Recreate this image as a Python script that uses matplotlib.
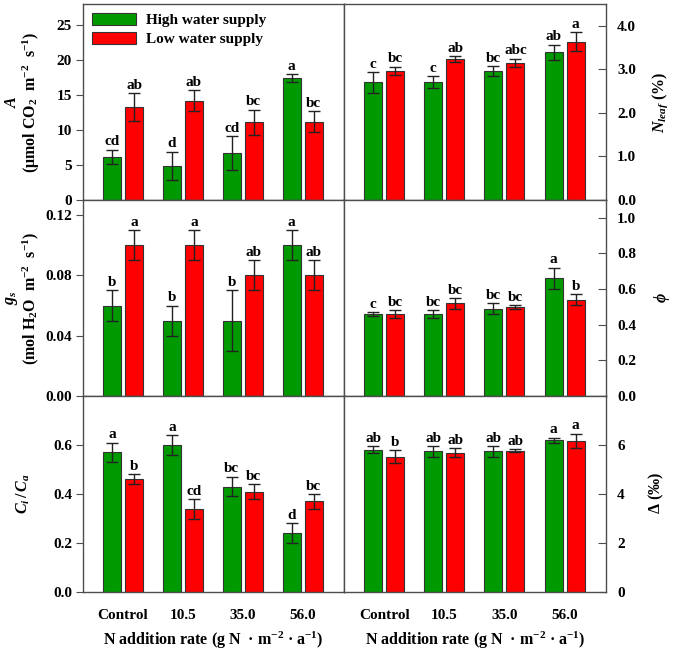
import numpy as np
import matplotlib
matplotlib.use("Agg")
import matplotlib.pyplot as plt
from matplotlib.patches import Patch

plt.rcParams['font.family'] = ['Liberation Serif', 'DejaVu Serif']
plt.rcParams['font.weight'] = 'bold'
plt.rcParams['mathtext.fontset'] = 'custom'
plt.rcParams['mathtext.rm'] = 'Liberation Serif:bold'
plt.rcParams['mathtext.it'] = 'Liberation Serif:italic:bold'
plt.rcParams['mathtext.bf'] = 'Liberation Serif:bold'

categories = ['Control', '10.5', '35.0', '56.0']

# net photosynthesis A
a_high = [6.2, 4.9, 6.7, 17.4]
a_high_err = [1.0, 2.0, 2.4, 0.6]
a_low = [13.3, 14.2, 11.1, 11.2]
a_low_err = [1.95, 1.45, 1.8, 1.5]
a_let_high = ['cd', 'd', 'cd', 'a']
a_let_low = ['ab', 'ab', 'bc', 'bc']

# leaf N
n_high = [2.70, 2.71, 2.96, 3.39]
n_high_err = [0.24, 0.13, 0.11, 0.18]
n_low = [2.96, 3.23, 3.15, 3.63]
n_low_err = [0.10, 0.065, 0.09, 0.22]
n_let_high = ['c', 'c', 'bc', 'ab']
n_let_low = ['bc', 'ab', 'abc', 'a']

# stomatal conductance gs
g_high = [0.06, 0.05, 0.05, 0.10]
g_high_err = [0.01, 0.01, 0.02, 0.01]
g_low = [0.10, 0.10, 0.08, 0.08]
g_low_err = [0.01, 0.01, 0.01, 0.01]
g_let_high = ['b', 'b', 'b', 'a']
g_let_low = ['a', 'a', 'ab', 'ab']

# phi
p_high = [0.46, 0.46, 0.49, 0.66]
p_high_err = [0.01, 0.02, 0.03, 0.06]
p_low = [0.46, 0.52, 0.50, 0.54]
p_low_err = [0.02, 0.03, 0.01, 0.03]
p_let_high = ['c', 'bc', 'bc', 'a']
p_let_low = ['bc', 'bc', 'bc', 'b']

# Ci/Ca
c_high = [0.57, 0.60, 0.43, 0.24]
c_high_err = [0.04, 0.04, 0.04, 0.04]
c_low = [0.46, 0.34, 0.41, 0.37]
c_low_err = [0.02, 0.04, 0.03, 0.03]
c_let_high = ['a', 'a', 'bc', 'd']
c_let_low = ['b', 'cd', 'bc', 'bc']

# carbon isotope discrimination
d_high = [5.81, 5.74, 5.74, 6.20]
d_high_err = [0.14, 0.22, 0.22, 0.10]
d_low = [5.53, 5.69, 5.77, 6.16]
d_low_err = [0.27, 0.17, 0.06, 0.30]
d_let_high = ['ab', 'ab', 'ab', 'a']
d_let_low = ['b', 'ab', 'ab', 'a']

GREEN = '#009a00'
RED = '#ff0000'
W, H = 675, 651

fig = plt.figure(figsize=(6.75, 6.51), dpi=100)


def px_axes(x0, x1, y0, y1):
    return fig.add_axes([x0 / W, 1 - y1 / H, (x1 - x0) / W, (y1 - y0) / H])


def panel(ax, high, high_err, low, low_err, lh, ll, ylim, yticks, fmt, side):
    x = np.arange(len(categories))
    off, bw = 0.183, 0.3
    for vals, errs, lets, col, sgn in [(high, high_err, lh, GREEN, -1), (low, low_err, ll, RED, 1)]:
        xs = x + sgn * off
        ax.bar(xs, vals, bw, color=col, edgecolor='#333333', linewidth=0.8, zorder=2)
        ax.errorbar(xs, vals, yerr=errs, fmt='none', ecolor='#222222', elinewidth=1,
                    capsize=4.5, capthick=1, zorder=3)
        for xi, v, e, t in zip(xs, vals, errs, lets):
            ax.annotate(t, (xi, v + e), xytext=(0, 1), textcoords='offset points',
                        ha='center', va='bottom', fontsize=11)
    ax.set_xlim(-0.67, 3.69)
    ax.set_ylim(*ylim)
    ax.set_yticks(yticks)
    ax.set_yticklabels([fmt.format(t) for t in yticks], fontsize=11)
    ax.set_xticks(x)
    ax.set_xticklabels(categories, fontsize=11)
    ax.tick_params(axis='x', length=0, pad=12)
    for s in ax.spines.values():
        s.set_color('#4d4d4d')
        s.set_linewidth(1)
    if side == 'left':
        ax.tick_params(axis='y', direction='out', length=5, pad=3, color='#4d4d4d')
    else:
        ax.yaxis.tick_right()
        ax.tick_params(axis='y', direction='in', length=6, pad=8, color='#4d4d4d')


rows = [(4, 200), (200, 396), (396, 592)]
lx, mx, rx = 83, 344, 606

ax1 = px_axes(lx, mx, *rows[0])
panel(ax1, a_high, a_high_err, a_low, a_low_err, a_let_high, a_let_low,
      (0, 28), [0, 5, 10, 15, 20, 25], '{:.0f}', 'left')
ax2 = px_axes(mx, rx, *rows[0])
panel(ax2, n_high, n_high_err, n_low, n_low_err, n_let_high, n_let_low,
      (0, 4.5), [0, 1, 2, 3, 4], '{:.1f}', 'right')
ax3 = px_axes(lx, mx, *rows[1])
panel(ax3, g_high, g_high_err, g_low, g_low_err, g_let_high, g_let_low,
      (0, 0.13), [0, 0.04, 0.08, 0.12], '{:.2f}', 'left')
ax4 = px_axes(mx, rx, *rows[1])
panel(ax4, p_high, p_high_err, p_low, p_low_err, p_let_high, p_let_low,
      (0, 1.1), [0, 0.2, 0.4, 0.6, 0.8, 1.0], '{:.1f}', 'right')
ax5 = px_axes(lx, mx, *rows[2])
panel(ax5, c_high, c_high_err, c_low, c_low_err, c_let_high, c_let_low,
      (0, 0.8), [0, 0.2, 0.4, 0.6], '{:.1f}', 'left')
ax6 = px_axes(mx, rx, *rows[2])
panel(ax6, d_high, d_high_err, d_low, d_low_err, d_let_high, d_let_low,
      (0, 8), [0, 2, 4, 6], '{:.0f}', 'right')

for ax in [ax1, ax2, ax3, ax4]:
    ax.set_xticklabels([])

handles = [Patch(facecolor=GREEN, edgecolor='#333333', linewidth=0.8),
           Patch(facecolor=RED, edgecolor='#333333', linewidth=0.8)]
ax1.legend(handles, ['High water supply', 'Low water supply'], loc='upper left',
           frameon=False, fontsize=11, handlelength=2.9, handleheight=0.8,
           handletextpad=0.6, labelspacing=0.3, borderaxespad=0.2,
           bbox_to_anchor=(0.0, 1.0))


def ftext(x, y, s, **kw):
    fig.text(x / W, 1 - y / H, s, ha='center', va='center', fontsize=11.5, **kw)


ftext(12, 102, '$A$', rotation=90)
ftext(31, 102, '(μmol CO$_2$  m$^{-2}$  s$^{-1}$)', rotation=90)
ftext(12, 298, '$g_s$', rotation=90)
ftext(31, 298, '(mol H$_2$O  m$^{-2}$  s$^{-1}$)', rotation=90)
ftext(23, 494, '$C_i\\,/\\,C_a$', rotation=90)
ftext(660, 102, '$N_{leaf}$ (%)', rotation=90)
ftext(662, 298, '$\\phi$', rotation=90)
ftext(656, 493, '$\\Delta$ (‰)', rotation=90)
ftext(213, 640, 'N addition rate (g N  · m$^{-2}$ · a$^{-1}$)')
ftext(475, 640, 'N addition rate (g N  · m$^{-2}$ · a$^{-1}$)')

fig.savefig('out.png', dpi=100)
